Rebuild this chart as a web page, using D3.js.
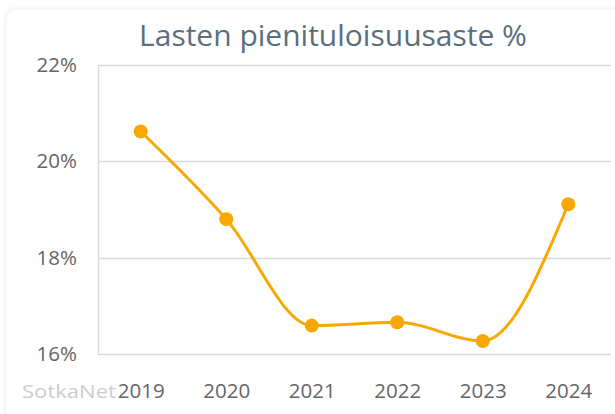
<!DOCTYPE html>
<html>
<head>
<meta charset="utf-8">
<script src="https://cdn.jsdelivr.net/npm/d3@7"></script>
<style>
  html, body { margin: 0; padding: 0; background: #fff; }
  svg { display: block; }
</style>
</head>
<body>
<svg id="chart" width="615" height="414"></svg>
<script>
const title = "Lasten pienituloisuusaste %";
const categories = ["2019", "2020", "2021", "2022", "2023", "2024"];
const values = [20.62, 18.80, 16.59, 16.66, 16.27, 19.11];
const yTicks = [16, 18, 20, 22];
const credit = "SotkaNet";

const svg = d3.select("#chart");
const W = 615, H = 414;
const m = { left: 98, right: 4, top: 65, bottom: 60 };

const defs = svg.append("defs");
const f = defs.append("filter").attr("id", "sh").attr("x", "-5%").attr("y", "-5%").attr("width", "110%").attr("height", "110%");
f.append("feDropShadow").attr("dx", 0).attr("dy", 0).attr("stdDeviation", 2.5).attr("flood-color", "#000").attr("flood-opacity", 0.08);

svg.append("rect")
  .attr("x", 6).attr("y", 9).attr("width", 640).attr("height", 440)
  .attr("rx", 10).attr("fill", "#fff").attr("stroke", "#f0f0f0").attr("filter", "url(#sh)");

const x = d3.scalePoint().domain(categories).range([m.left, W - m.right]).padding(0.5);
const y = d3.scaleLinear().domain([16, 22]).range([354, 65]);

// gridlines
svg.append("g").selectAll("line").data(yTicks).join("line")
  .attr("x1", m.left).attr("x2", 611)
  .attr("y1", d => Math.round(y(d)) + 0.5).attr("y2", d => Math.round(y(d)) + 0.5)
  .attr("stroke", "#d9d9d9").attr("stroke-width", 1.5);

// left axis line
svg.append("line").attr("x1", m.left + 0.5).attr("x2", m.left + 0.5)
  .attr("y1", y(22)).attr("y2", y(16) + 1)
  .attr("stroke", "#d9d9d9").attr("stroke-width", 1.5);

// y labels
const yAxis = d3.axisLeft(y).tickValues(yTicks).tickFormat(d => d + "%").tickSize(0).tickPadding(21);
const gy = svg.append("g").attr("transform", `translate(${m.left},0)`).call(yAxis);
gy.select(".domain").remove();
gy.selectAll("text").attr("font-family", "'Open Sans', sans-serif").attr("font-size", 20.5).attr("fill", "#666666");

// credit
svg.append("text").attr("x", 22).attr("y", 398).text(credit)
  .attr("font-family", "'Open Sans', sans-serif").attr("font-size", 19)
  .attr("textLength", 94).attr("lengthAdjust", "spacingAndGlyphs").attr("fill", "#cccccc");

// x labels
const xAxis = d3.axisBottom(x).tickSize(0).tickPadding(0);
const gx = svg.append("g").attr("transform", `translate(0,${383})`).call(xAxis);
gx.select(".domain").remove();
gx.selectAll("text").attr("font-family", "'Open Sans', sans-serif").attr("font-size", 20.5).attr("fill", "#666666")
  .attr("dy", "0.71em");

// title
svg.append("text").attr("x", 333).attr("y", 46).attr("text-anchor", "middle").text(title)
  .attr("font-family", "'Open Sans', sans-serif").attr("font-size", 30).attr("fill", "#5a6e7e");

// line
const line = d3.line().x((d, i) => x(categories[i])).y(d => y(d)).curve(d3.curveMonotoneX);
svg.append("path").datum(values).attr("d", line)
  .attr("fill", "none").attr("stroke", "#f8a800").attr("stroke-width", 3);

svg.append("g").selectAll("circle").data(values).join("circle")
  .attr("cx", (d, i) => x(categories[i])).attr("cy", d => y(d)).attr("r", 7)
  .attr("fill", "#f8a800");
</script>
</body>
</html>
